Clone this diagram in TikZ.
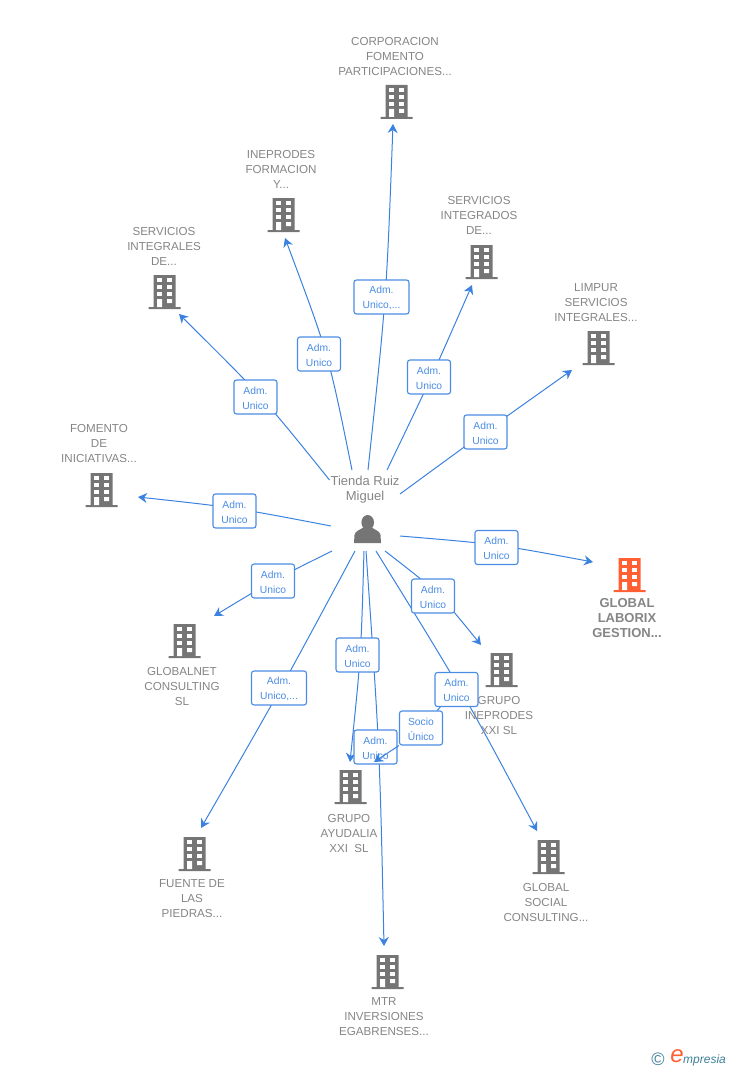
\documentclass[tikz,border=0pt]{standalone}
\usepackage{fontspec}
\setmainfont{Liberation Sans}
\usetikzlibrary{
    arrows.meta,
    backgrounds
}
\definecolor{linkblue}{HTML}{3B82E0}
\definecolor{boxblue}{HTML}{4A8CE4}
\definecolor{labelgrey}{HTML}{858585}
\definecolor{iconpaint}{HTML}{757575}
\definecolor{iconorange}{HTML}{FF5F33}
\definecolor{logoteal}{HTML}{3F7F98}
\tikzset{
    % Arrows
    arrow tip/.tip={Stealth[length=9pt,width=10pt,inset=3pt]},
    link/.style={linkblue,line width=1pt},
    arr/.style={link,-{arrow tip}},
    %
    % Nodes
    relbox/.style={draw=boxblue,line width=1.1pt,fill=white,rounded corners=2.5pt,
        minimum width=43pt,minimum height=34pt,inner sep=0pt,align=center,
        text=boxblue,font=\fontsize{10.3}{15}\selectfont},
    company/.style={align=center,text=labelgrey,inner sep=0pt,yshift=-1pt,font=\fontsize{11.6}{15}\selectfont},
    main company/.style={company,font=\fontsize{13}{15}\selectfont\bfseries},
    %
    % Building icon
    building/.pic={
        \fill[#1] (-11,-17) rectangle (11,15) (-16,15) rectangle (16,17);
        \foreach \wx in {-7.5,2.5}
            \foreach \wy in {-14,-7,0}
                \fill[white] (\wx,\wy) rectangle +(5,4);
        \fill[white] (2.5,7) rectangle +(5,4) (-7.5,7) rectangle (-2.5,15);
    }
}
\begin{document}
\begin{tikzpicture}[x=1pt,y=-1pt]
    \useasboundingbox (0,0) rectangle (728,1070);
    % Buildings
    \foreach \x/\y in {396.5/102,283.5/215,164.5/292,481.5/262,598.5/348,101.5/490,184.5/641,501.5/670,350.5/787,194.5/854,548.5/857,387.5/972}
        \pic at (\x,\y) {building=iconpaint};
    \pic at (629.5,575) {building=iconorange};
    % Company names
    \node[company] (corporacion) at (395,56) {CORPORACION\\FOMENTO\\PARTICIPACIONES...};
    \node[company] (formacion) at (281,168) {INEPRODES\\FORMACION\\Y...};
    \node[company] (integrales) at (164,245) {SERVICIOS\\INTEGRALES\\DE...};
    \node[company] (integrados) at (479,214) {SERVICIOS\\INTEGRADOS\\DE...};
    \node[company] (limpur) at (596,302) {LIMPUR\\SERVICIOS\\INTEGRALES...};
    \node[company] (fomento) at (99,443) {FOMENTO\\DE\\INICIATIVAS...};
    \node[main company] (laborix) at (627,617) {GLOBAL\\LABORIX\\GESTION...};
    \node[company] (globalnet) at (182,685) {GLOBALNET\\CONSULTING\\SL};
    \node[company] (ineprodes) at (499,714) {GRUPO\\INEPRODES\\XXI SL};
    \node[company] (ayudalia) at (349,832) {GRUPO\\AYUDALIA\\XXI\ \ SL};
    \node[company] (fuente) at (192,898) {FUENTE DE\\LAS\\PIEDRAS...};
    \node[company] (social) at (546,901) {GLOBAL\\SOCIAL\\CONSULTING...};
    \node[company] (mtr) at (384,1016) {MTR\\INVERSIONES\\EGABRENSES...};
    % Person
    \node[company,font=\fontsize{13}{15}\selectfont] (tienda) at (365,489) {Tienda Ruiz\\Miguel};
    \fill[iconpaint] (367.7,522.5) ellipse[x radius=6.3,y radius=7.5];
    \fill[iconpaint] (354,543) -- (354.5,535) .. controls (355,531) and (360,530) .. (364,527)
        -- (371,527) .. controls (375,530) and (380,531) .. (380.5,535) -- (381,543) -- cycle;
    % Relation boxes
    \foreach \n/\x/\y/\w/\a/\b in {
        corp/381.5/297/55/Adm./{Unico,...},form/319/354/43/Adm./Unico,inte/255.5/397/43/Adm./Unico,
        serv/429/377/43/Adm./Unico,limp/485.5/432/43/Adm./Unico,fome/234.5/511/43/Adm./Unico,
        labo/496.5/547.5/43/Adm./Unico,gnet/273/581/43/Adm./Unico,inep/433/596/43/Adm./Unico,
        ayud/357.5/655/43/Adm./Unico,mtrb/375.5/747/43/Adm./Unico,fuen/279/688/55/Adm./{Unico,...},
        soci/456.5/689.5/43/Adm./Unico,unic/421/728/43/Socio/Único}
        \node[relbox,minimum width=\w pt] (box\n) at (\x,\y) {\rule{0pt}{10pt}\a\\\b};
    % Connectors
    \begin{pgfonlayer}{background}
        \foreach \n/\sx/\sy/\qx/\qy/\ex/\ey in {
            corp/368/470/386.5/297/393/124,form/352/470/328.5/354/285/238,inte/329.5/480/262.7/397/179/314,
            serv/387/470/431.5/377.5/472/285,limp/400/494/486/431/572/370,fome/331/526/234.5/507.5/138/497,
            labo/400/536/496.5/544/593/562,gnet/332/551/273.5/580/214/616,inep/385/551/438/592/481/645,
            ayud/364/551/361/656/350/762,mtrb/366/551/379.7/748.5/384/946,fuen/355/551/280.7/689.5/201/828,
            soci/376/551/462.5/691/537/831}{
            \coordinate (from\n) at (\sx,\sy);
            \coordinate (to\n) at (\ex,\ey);
            \draw[arr] (from\n) .. controls (\qx,\qy) .. (to\n);
        }
        \draw[link] (boxsoci) -- (boxunic);
    \end{pgfonlayer}
    \coordinate (unicend) at (374,762);
    \draw[arr] (boxunic.south west) -- (unicend);
    % Logo
    \node[text=logoteal,inner sep=0pt,font=\fontsize{18}{18}\selectfont] (logoc) at (658,1059) {©};
    \node[text=iconorange,inner sep=0pt,font=\fontsize{24}{24}\selectfont\itshape] (logoe) at (677,1056) {e};
    \node[text=logoteal,inner sep=0pt,anchor=west,font=\fontsize{12}{12}\selectfont\itshape] (logotext) at (683,1060) {mpresia};
\end{tikzpicture}
\end{document}
